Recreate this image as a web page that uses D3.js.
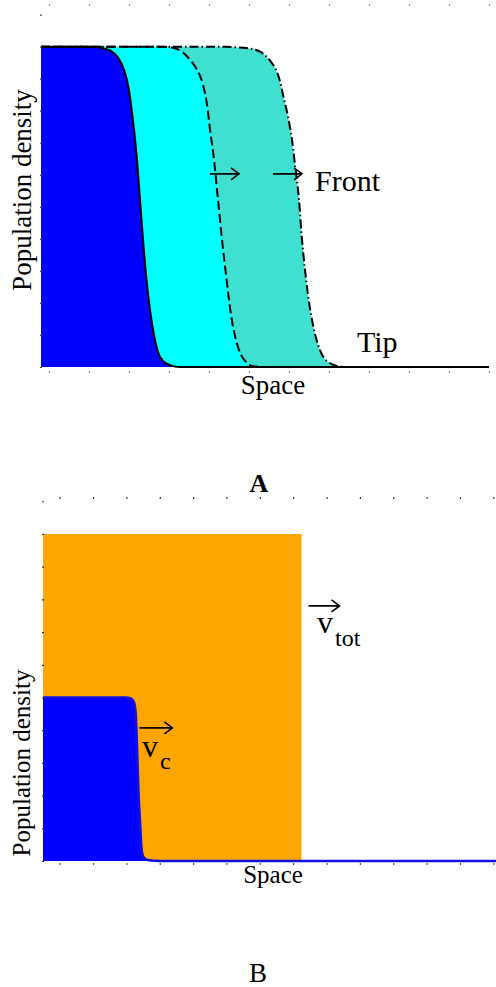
<!DOCTYPE html>
<html>
<head>
<meta charset="utf-8">
<script src="https://cdn.jsdelivr.net/npm/d3@7"></script>
<style>
  body { margin: 0; background: #fff; }
  svg text { font-family: "Liberation Serif", "DejaVu Serif", serif; fill: #000; }
</style>
</head>
<body>
<div id="chart"></div>
<script>
// ---- Panel A: three travelling fronts (x in space units, y = density) ----
const frontSolidX = [-0.2, 1.025, 1.275, 1.525, 1.725, 1.875, 1.975, 2.05, 2.125, 2.2, 2.275, 2.35, 2.425, 2.525, 2.625, 2.725, 2.85, 3.025, 3.275, 11];
const frontSolidY = [1, 1, 0.997, 0.988, 0.966, 0.928, 0.881, 0.819, 0.741, 0.647, 0.522, 0.397, 0.288, 0.178, 0.1, 0.047, 0.019, 0.006, 0, 0];

const frontDashX = [-0.2, 2.775, 3.075, 3.325, 3.525, 3.7, 3.85, 3.95, 4.025, 4.125, 4.225, 4.325, 4.425, 4.55, 4.675, 4.8, 4.925, 5.075, 5.325, 11];
const frontDashY = [1, 1, 0.997, 0.984, 0.959, 0.928, 0.881, 0.819, 0.741, 0.647, 0.522, 0.397, 0.288, 0.163, 0.084, 0.038, 0.016, 0.003, 0, 0];

const frontDotX = [-0.2, 4.4, 4.775, 5.025, 5.325, 5.525, 5.65, 5.75, 5.85, 5.975, 6.075, 6.15, 6.25, 6.325, 6.4, 6.475, 6.575, 6.675, 6.775, 6.875, 6.975, 7.2, 7.4, 11];
const frontDotY = [1, 1, 0.997, 0.994, 0.981, 0.956, 0.934, 0.903, 0.85, 0.781, 0.709, 0.631, 0.522, 0.397, 0.303, 0.225, 0.147, 0.091, 0.053, 0.028, 0.016, 0.003, 0, 0];

const ticksAX = d3.range(0, 12);          // 0..11
const ticksAY = d3.range(0, 12).map(d => d / 10);

// ---- Panel B: core population and total population ----
const coreX = [-0.5, 1.97, 2.12, 2.21, 2.27, 2.3, 2.33, 2.36, 2.42, 2.45, 2.51, 2.63, 3.02, 13.5];
const coreY = [0.5, 0.5, 0.498, 0.489, 0.462, 0.401, 0.309, 0.217, 0.095, 0.04, 0.012, 0.003, 0, 0];

const totalX = [-0.5, 7.25, 7.25, 13.5];
const totalY = [1, 1, 0, 0];

const ticksBX = d3.range(0, 14);          // 0..13
const ticksBY = d3.range(0, 12).map(d => d / 10);

const zip = (xs, ys) => xs.map((x, i) => ({ x: x, y: ys[i] }));

const svg = d3.select('#chart').append('svg')
  .attr('width', 496)
  .attr('height', 987);

// ================= Panel A =================
const xA = d3.scaleLinear().domain([-0.2, 11]).range([41, 489]);
const yA = d3.scaleLinear().domain([0, 1.13]).range([367, 5]);

const gA = svg.append('g');

const areaA = d3.area().curve(d3.curveMonotoneX)
  .x(d => xA(d.x)).y0(yA(0)).y1(d => yA(d.y));
const lineA = d3.line().curve(d3.curveMonotoneX)
  .x(d => xA(d.x)).y(d => yA(d.y));

const fronts = [
  { pts: zip(frontDotX, frontDotY), fill: '#40e0d0', dash: '9,3,1.5,3' },
  { pts: zip(frontDashX, frontDashY), fill: '#00ffff', dash: '9,4' },
  { pts: zip(frontSolidX, frontSolidY), fill: '#0000ff', dash: null }
];

fronts.forEach(f => {
  gA.append('path').datum(f.pts).attr('d', areaA).attr('fill', f.fill);
});
fronts.forEach(f => {
  gA.append('path').datum(f.pts).attr('d', lineA)
    .attr('fill', 'none')
    .attr('stroke', '#000')
    .attr('stroke-width', 2)
    .attr('stroke-dasharray', f.dash);
});

// tick marks only (no axis lines)
function ticks(g, axis, tx, ty, color) {
  const a = g.append('g').attr('transform', `translate(${tx},${ty})`).call(axis);
  a.select('.domain').remove();
  a.selectAll('text').remove();
  a.selectAll('line').attr('stroke', color).attr('stroke-width', 1.2);
}
ticks(gA, d3.axisBottom(xA).tickValues(ticksAX).tickSize(2), 0, 4, '#999');
ticks(gA, d3.axisTop(xA).tickValues(ticksAX).tickSize(2), 0, 373, '#888');
ticks(gA, d3.axisRight(yA).tickValues(ticksAY).tickSize(2), 40, 0, '#444');

// arrows (in data coordinates)
const arrowsA = [
  { x0: 4.025, x1: 4.75, y: 0.603 },
  { x0: 5.6, x1: 6.325, y: 0.603 }
];
function arrow(g, xs, ys, a) {
  const X0 = xs(a.x0), X1 = xs(a.x1), Y = ys(a.y);
  g.append('path')
    .attr('d', `M${X0},${Y}H${X1}M${X1 - 8},${Y - 6}L${X1},${Y}L${X1 - 8},${Y + 6}`)
    .attr('fill', 'none').attr('stroke', '#000').attr('stroke-width', 1.6);
}
arrowsA.forEach(a => arrow(gA, xA, yA, a));

gA.append('text').attr('x', 315).attr('y', 191).attr('font-size', 30).text('Front');
gA.append('text').attr('x', 357).attr('y', 352).attr('font-size', 30).text('Tip');
gA.append('text').attr('x', 273).attr('y', 394).attr('font-size', 27)
  .attr('text-anchor', 'middle').text('Space');
gA.append('text').attr('transform', 'translate(31,190) rotate(-90)')
  .attr('font-size', 27).attr('text-anchor', 'middle').text('Population density');
gA.append('text').attr('x', 259).attr('y', 492).attr('font-size', 26)
  .attr('font-weight', 'bold').attr('text-anchor', 'middle').text('A');

// ================= Panel B =================
const xB = d3.scaleLinear().domain([-0.5, 13.5]).range([43, 510]);
const yB = d3.scaleLinear().domain([0, 1.11]).range([861, 498]);

const gB = svg.append('g');

const areaB = d3.area()
  .x(d => xB(d.x)).y0(yB(0)).y1(d => yB(d.y));
const areaBcore = d3.area().curve(d3.curveMonotoneX)
  .x(d => xB(d.x)).y0(yB(0)).y1(d => yB(d.y));
const lineBcore = d3.line().curve(d3.curveMonotoneX)
  .x(d => xB(d.x)).y(d => yB(d.y));

gB.append('path').datum(zip(totalX, totalY)).attr('d', areaB).attr('fill', '#ffa500');
gB.append('path').datum(zip(coreX, coreY)).attr('d', areaBcore).attr('fill', '#0000ff');
gB.append('path').datum(zip(coreX, coreY)).attr('d', lineBcore)
  .attr('fill', 'none').attr('stroke', '#1010e0').attr('stroke-width', 2.6);

ticks(gB, d3.axisBottom(xB).tickValues(ticksBX).tickSize(2), 0, 497, '#333');
ticks(gB, d3.axisTop(xB).tickValues(ticksBX).tickSize(2), 0, 865, '#555');
ticks(gB, d3.axisRight(yB).tickValues(ticksBY).tickSize(2), 42, 0, '#333');

const arrowsB = [
  { x0: 2.39, x1: 3.38, y: 0.407 },
  { x0: 7.46, x1: 8.39, y: 0.78 }
];
arrowsB.forEach(a => arrow(gB, xB, yB, a));

gB.append('text').attr('x', 142).attr('y', 757).attr('font-size', 32).text('v');
gB.append('text').attr('x', 160).attr('y', 769).attr('font-size', 24).text('c');
gB.append('text').attr('x', 317).attr('y', 633).attr('font-size', 32).text('v');
gB.append('text').attr('x', 335).attr('y', 646).attr('font-size', 24).text('tot');

gB.append('text').attr('x', 273).attr('y', 883).attr('font-size', 25)
  .attr('text-anchor', 'middle').text('Space');
gB.append('text').attr('transform', 'translate(30,763) rotate(-90)')
  .attr('font-size', 25).attr('text-anchor', 'middle').text('Population density');
gB.append('text').attr('x', 258).attr('y', 982).attr('font-size', 27)
  .attr('text-anchor', 'middle').text('B');
</script>
</body>
</html>
